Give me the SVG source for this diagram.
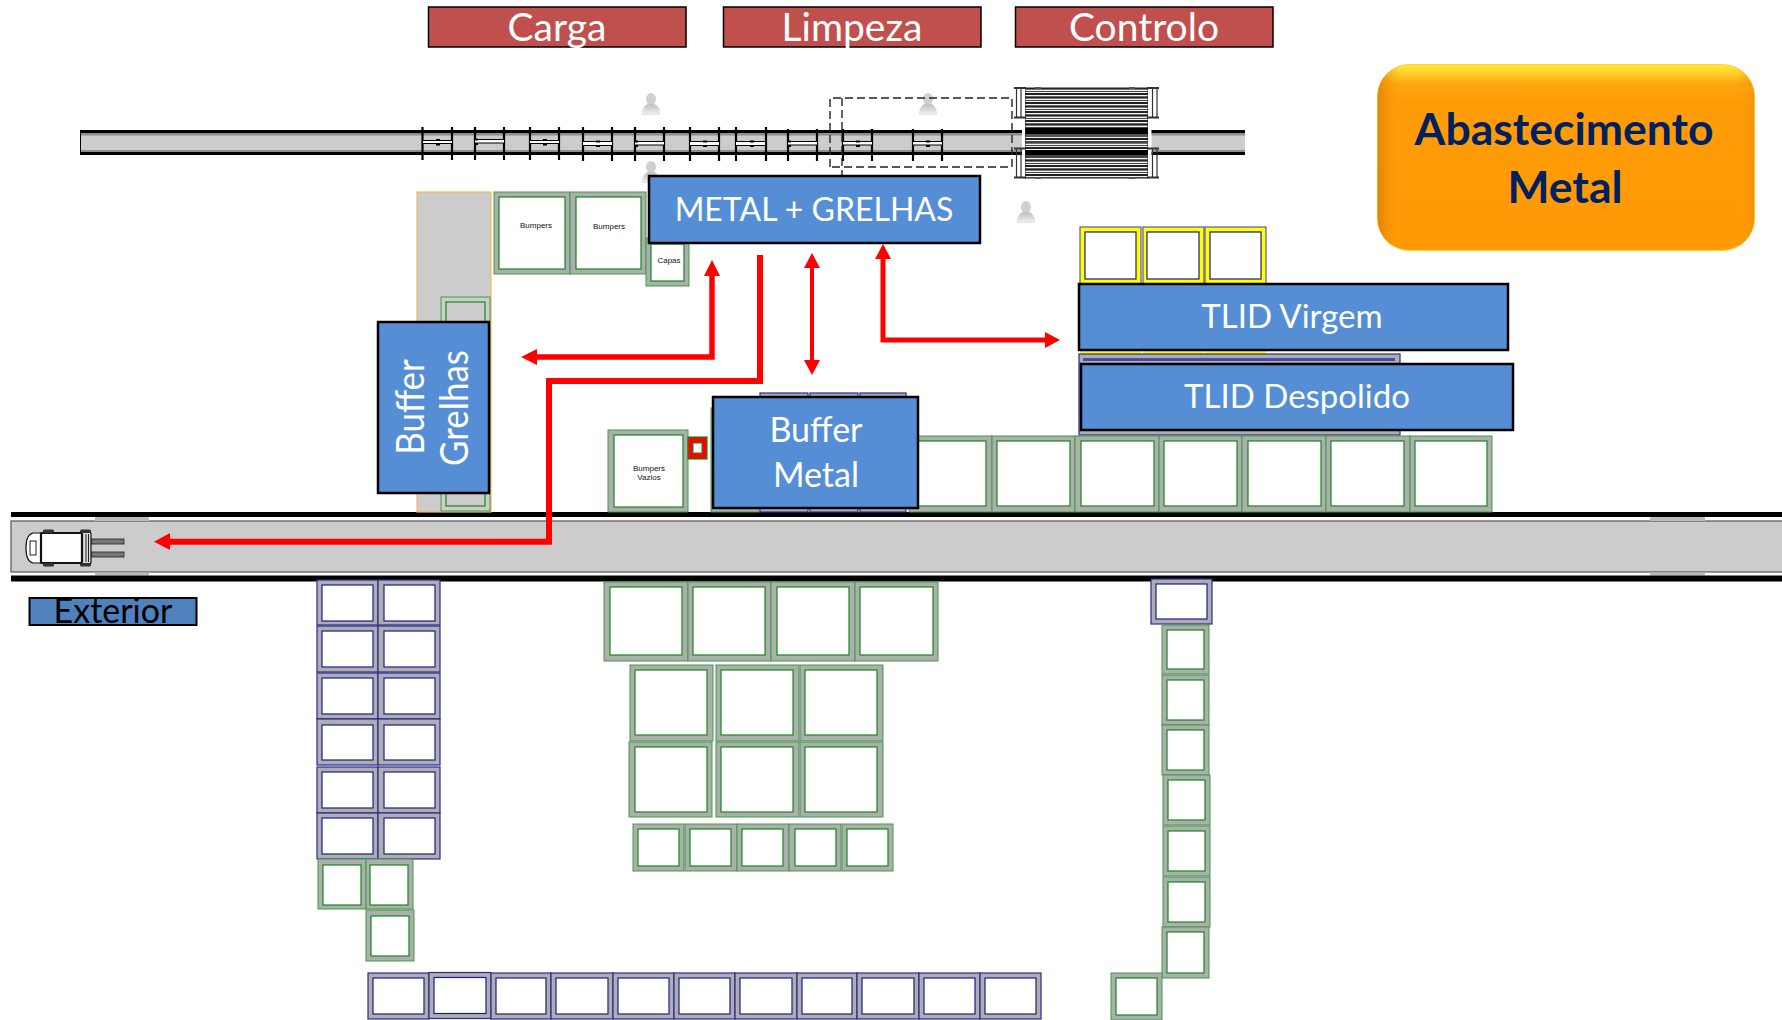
<svg xmlns="http://www.w3.org/2000/svg" width="1782" height="1020" viewBox="0 0 1782 1020">
<style>
text{font-family:"Lato","Liberation Sans",sans-serif}
.go{fill:#aeaeae;stroke:#3a9f42;stroke-width:1}
.gi{fill:#fff;stroke:#128a1a;stroke-width:1.200}
.bo{fill:#aeaeae;stroke:#2a2a96;stroke-width:1.200}
.bi{fill:#fff;stroke:#1c1c92;stroke-width:1.200}
.yo{fill:#ffff00;stroke:#5a5aa8;stroke-width:1.200}
.yi{fill:#fff;stroke:#1c1c80;stroke-width:1.200}
.box{fill:#558ed5;stroke:#000;stroke-width:2.500}
.hdr{fill:#c0504d;stroke:#000;stroke-width:1.500}
.tw{fill:#fff;font-size:33px;text-anchor:middle}
.big{font-size:39px}
.small{font-family:"Liberation Sans",sans-serif;fill:#111;font-size:8px;text-anchor:middle}
.red{fill:none;stroke:#f00;stroke-linejoin:miter}
.redh{fill:#f00;stroke:none}
.tick{stroke:#000;stroke-width:2.200}
.rail{stroke:#000;stroke-width:1}
</style>
<defs>
<linearGradient id="pg" x1="0" y1="0" x2="0" y2="1"><stop offset="0" stop-color="#bdbdbd"/><stop offset="1" stop-color="#f0f0f0"/></linearGradient>
<symbol id="person" viewBox="0 0 20 22" overflow="visible">
<ellipse cx="10" cy="6" rx="5" ry="6" fill="#d0d0d0"/>
<path d="M1.500 21.500C1 15 4.500 10.500 10 10.500S19 15 18.500 21.500Z" fill="url(#pg)" stroke="#d4d4d4" stroke-width=".5"/>
</symbol>
<pattern id="stripes" width="10" height="9" patternUnits="userSpaceOnUse" y="88">
<rect width="10" height="9" fill="#f4f4f4"/>
<rect y="0" width="10" height="1.600" fill="#222"/><rect y="3" width="10" height="1" fill="#444"/><rect y="5" width="10" height="2" fill="#222"/><rect y="8" width="10" height="1" fill="#666"/>
</pattern>
<linearGradient id="og" x1="0" y1="0" x2="0" y2="1">
<stop offset="0" stop-color="#ffe838"/><stop offset=".035" stop-color="#ffd830"/><stop offset=".1" stop-color="#ffa80f"/><stop offset=".2" stop-color="#fe9c08"/><stop offset="1" stop-color="#ff9a06"/>
</linearGradient>
<linearGradient id="oe" x1="0" y1="0" x2="1" y2="0">
<stop offset="0" stop-color="#d87f08" stop-opacity=".8"/><stop offset=".06" stop-color="#ff9a06" stop-opacity="0"/><stop offset=".95" stop-color="#ff9a06" stop-opacity="0"/><stop offset="1" stop-color="#e8900c" stop-opacity=".6"/>
</linearGradient>
</defs>
<rect width="1782" height="1020" fill="#fff"/>

<g id="road">
<rect x="11" y="521" width="1790" height="51" fill="#ccc" stroke="#555" stroke-width="1.200"/>
<rect x="95" y="517" width="54" height="4" fill="#bbb"/><rect x="95" y="572.500" width="54" height="3" fill="#bbb"/>
<rect x="1650" y="517" width="55" height="4" fill="#bbb"/><rect x="1650" y="572.500" width="55" height="3" fill="#bbb"/>
<rect x="11" y="512" width="1771" height="5" fill="#000"/>
<rect x="11" y="575.500" width="1771" height="6" fill="#000"/>
</g>

<g id="conveyor">
<rect x="80" y="130" width="1165" height="25" fill="#000"/>
<rect x="81" y="133" width="1164" height="19" fill="#8e8e8e"/>
<rect x="81" y="135.500" width="1164" height="14.500" fill="#ccc"/>
<g id="hangers">
<path class="tick" d="M422.500 127V160M452 127V160M475 127V160M504 127V160M530 127V160M559 127V160M583 127V161M612 127V161M635 127V161M664 127V161M690 127V161M719 127V161M736 127V161M766 127V161M788 129V161M817 129V161M843 129V161M872 129V161M913 129V161M942 129V161"/>
<g fill="#fff"><rect x="423" y="140.500" width="29" height="3"/><rect x="475" y="140" width="29" height="3"/><rect x="530" y="140.500" width="29" height="3"/><rect x="583" y="142" width="29" height="3"/><rect x="635" y="142" width="29" height="3"/><rect x="690" y="142" width="29" height="3"/><rect x="736" y="142" width="29" height="3"/><rect x="788" y="142" width="29" height="3"/><rect x="843" y="142" width="29" height="3"/><rect x="913" y="142" width="29" height="3"/></g>
<path class="rail" d="M423 140.500H452M423 143.500H452M475 139.500H504M475 143H504M530 140.500H559M530 143.500H559M583 141.500H612M583 145.500H612M635 141.500H664M635 145H664M690 141.500H719M690 145.500H719M736 141.500H766M736 145.500H766M788 141.500H817M788 145H817M843 141.500H872M843 145H872M913 141.500H942M913 145H942"/>
<g fill="#000"><rect x="436" y="139" width="4" height="2"/><rect x="436" y="143.500" width="4" height="2"/><rect x="475" y="138.500" width="3" height="2"/><rect x="475" y="143" width="3" height="2"/><rect x="543" y="139" width="4" height="2"/><rect x="543" y="143.500" width="4" height="2"/><rect x="596" y="140.500" width="4" height="2"/><rect x="596" y="145" width="4" height="2"/><rect x="635" y="140.500" width="3" height="2"/><rect x="635" y="145" width="3" height="2"/><rect x="703" y="140.500" width="4" height="2"/><rect x="703" y="145" width="4" height="2"/><rect x="750" y="140.500" width="4" height="2"/><rect x="750" y="145" width="4" height="2"/><rect x="788" y="140.500" width="3" height="2"/><rect x="788" y="145" width="3" height="2"/><rect x="856" y="140.500" width="4" height="2"/><rect x="856" y="145" width="4" height="2"/><rect x="926" y="140.500" width="4" height="2"/><rect x="926" y="145" width="4" height="2"/></g>
</g>
</g>

<g id="persons">
<use href="#person" x="641" y="93" width="20" height="22"/>
<use href="#person" x="641" y="161" width="20" height="22"/>
<use href="#person" x="918" y="93" width="20" height="22"/>
<use href="#person" x="1016" y="201" width="20" height="22"/>
</g>

<g id="dashed-zone" fill="none" stroke="#222" stroke-width="1.400" stroke-dasharray="8 4">
<path d="M830 167V98H1012V167H830"/>
<path d="M842 98V176"/>
</g>

<g id="roller">
<rect x="1025" y="88" width="123" height="90" fill="url(#stripes)"/>
<rect x="1025" y="128" width="123" height="6" fill="#000"/>
<rect x="1025" y="134" width="123" height="3" fill="#555"/>
<rect x="1025" y="141" width="123" height="2" fill="#444"/>
<rect x="1025" y="150" width="123" height="5" fill="#000"/>
<rect x="1025" y="155" width="123" height="3" fill="#444"/>
<rect x="1025" y="88" width="123" height="90" fill="none" stroke="#222" stroke-width="1"/>
<rect x="1022" y="88" width="3" height="90" fill="#fff"/><rect x="1148" y="88" width="3.500" height="90" fill="#fff"/>
<path d="M1016.500 88V117M1021 88V117M1016.500 148V178M1021 148V178M1152.500 88V117M1157 88V117M1152.500 148V178M1157 148V178" stroke="#333" stroke-width="1.200" fill="none"/>
<path d="M1014 88H1026M1014 117.500H1026M1014 148.500H1026M1014 177.500H1026M1147 88H1159M1147 117.500H1159M1147 148.500H1159M1147 177.500H1159" stroke="#333" stroke-width="2" fill="none"/>
<rect x="1035" y="87" width="6" height="2" fill="#555"/><rect x="1129" y="87" width="6" height="2" fill="#555"/><rect x="1035" y="177" width="6" height="2" fill="#555"/><rect x="1129" y="177" width="6" height="2" fill="#555"/>
</g>

<g id="crates-upper">
<rect id="buffer-grelhas-area" x="417" y="192" width="74" height="320" fill="#ccc" stroke="#f4b860" stroke-width="1.200"/>
<g id="c-grelhas"><rect class="go" x="441" y="297" width="49" height="214" style="fill:#ccc"/><rect class="gi" x="446" y="302" width="39" height="204" style="fill:#ccc"/></g>
<g id="c-bumpers-1"><rect class="go" x="494" y="192" width="76" height="82"/><rect class="gi" x="499" y="197" width="66" height="72"/><text class="small" x="536" y="228">Bumpers</text></g>
<g id="c-bumpers-2"><rect class="go" x="570" y="192" width="76" height="82"/><rect class="gi" x="576" y="197" width="65" height="72"/><text class="small" x="609" y="229">Bumpers</text></g>
<g id="c-capas"><rect class="go" x="646" y="238" width="43" height="48"/><rect class="gi" x="651" y="244" width="33" height="37"/><text class="small" x="669" y="263">Capas</text></g>
<g id="c-vazios"><rect class="go" x="608" y="430" width="80" height="82"/><rect class="gi" x="614" y="435" width="69" height="72"/><text class="small" x="649" y="471">Bumpers</text><text class="small" x="649" y="480">Vazios</text></g>
<g id="c-red"><rect x="688" y="437" width="19" height="22" fill="#f00" stroke="#128a1a" stroke-width="1.200"/><rect x="693" y="443" width="9" height="10" fill="#fff" stroke="#128a1a" stroke-width="1"/></g>
<g id="c-bm-g"><rect class="go" x="711" y="408" width="48" height="104"/></g>
<g id="c-bm-b1"><rect class="bo" x="760" y="393" width="48" height="119"/></g>
<g id="c-bm-b2"><rect class="bo" x="810" y="393" width="48" height="119"/></g>
<g id="c-bm-b3"><rect class="bo" x="860" y="393" width="46" height="119"/></g>
<g id="c-y1"><rect class="yo" x="1080" y="227" width="61" height="57"/><rect class="yi" x="1085" y="232" width="51" height="47"/></g>
<g id="c-y2"><rect class="yo" x="1143" y="227" width="61" height="57"/><rect class="yi" x="1147" y="232" width="52" height="47"/></g>
<g id="c-y3"><rect class="yo" x="1205" y="227" width="61" height="57"/><rect class="yi" x="1210" y="232" width="51" height="47"/></g>
<rect x="1080" y="350" width="61" height="5" fill="#ff0"/><rect x="1143" y="350" width="61" height="5" fill="#ff0"/><rect x="1205" y="350" width="61" height="5" fill="#ff0"/>
<g id="c-tlid"><rect class="bo" x="1079" y="354" width="321" height="81"/><rect x="1083" y="358" width="312" height="3" fill="#4a4aa8"/><rect x="1080" y="364" width="2" height="60" fill="#ff0"/></g>
<g id="c-r1"><rect class="go" x="909" y="436" width="83" height="76"/><rect class="gi" x="914" y="441" width="72" height="65"/></g>
<g id="c-r2"><rect class="go" x="992" y="436" width="83" height="76"/><rect class="gi" x="997" y="441" width="73" height="65"/></g>
<g id="c-r3"><rect class="go" x="1075" y="436" width="84" height="76"/><rect class="gi" x="1081" y="441" width="73" height="65"/></g>
<g id="c-r4"><rect class="go" x="1159" y="436" width="83" height="76"/><rect class="gi" x="1164" y="441" width="73" height="65"/></g>
<g id="c-r5"><rect class="go" x="1242" y="436" width="84" height="76"/><rect class="gi" x="1248" y="441" width="73" height="65"/></g>
<g id="c-r6"><rect class="go" x="1326" y="436" width="84" height="76"/><rect class="gi" x="1331" y="441" width="73" height="65"/></g>
<g id="c-r7"><rect class="go" x="1410" y="436" width="82" height="76"/><rect class="gi" x="1415" y="441" width="72" height="65"/></g>
</g>

<g id="crates-lower-left">
<g id="ll1a"><rect class="bo" x="317" y="580" width="61" height="45"/><rect class="bi" x="322" y="585" width="51" height="36"/></g>
<g id="ll1b"><rect class="bo" x="378" y="580" width="62" height="45"/><rect class="bi" x="384" y="585" width="51" height="36"/></g>
<g id="ll2a"><rect class="bo" x="317" y="626" width="61" height="46"/><rect class="bi" x="322" y="631" width="51" height="36"/></g>
<g id="ll2b"><rect class="bo" x="378" y="626" width="62" height="46"/><rect class="bi" x="384" y="631" width="51" height="36"/></g>
<g id="ll3a"><rect class="bo" x="317" y="673" width="61" height="46"/><rect class="bi" x="322" y="678" width="51" height="36"/></g>
<g id="ll3b"><rect class="bo" x="378" y="673" width="62" height="46"/><rect class="bi" x="384" y="678" width="51" height="36"/></g>
<g id="ll4a"><rect class="bo" x="317" y="719" width="61" height="46"/><rect class="bi" x="322" y="725" width="51" height="35"/></g>
<g id="ll4b"><rect class="bo" x="378" y="719" width="62" height="46"/><rect class="bi" x="384" y="725" width="51" height="35"/></g>
<g id="ll5a"><rect class="bo" x="317" y="767" width="61" height="46"/><rect class="bi" x="322" y="772" width="51" height="36"/></g>
<g id="ll5b"><rect class="bo" x="378" y="767" width="62" height="46"/><rect class="bi" x="384" y="772" width="51" height="36"/></g>
<g id="ll6a"><rect class="bo" x="317" y="813" width="61" height="46"/><rect class="bi" x="322" y="818" width="51" height="36"/></g>
<g id="ll6b"><rect class="bo" x="378" y="813" width="62" height="46"/><rect class="bi" x="384" y="818" width="51" height="36"/></g>
<g id="ll7a"><rect class="go" x="318" y="859" width="48" height="50"/><rect class="gi" x="323" y="865" width="38" height="40"/></g>
<g id="ll7b"><rect class="go" x="366" y="859" width="47" height="50"/><rect class="gi" x="370" y="865" width="38" height="40"/></g>
<g id="ll8"><rect class="go" x="366" y="910" width="48" height="51"/><rect class="gi" x="371" y="916" width="38" height="40"/></g>
</g>

<g id="crates-centre">
<g id="m1a"><rect class="go" x="604" y="582" width="84" height="79"/><rect class="gi" x="610" y="587" width="72" height="68"/></g>
<g id="m1b"><rect class="go" x="688" y="582" width="83" height="79"/><rect class="gi" x="693" y="587" width="72" height="68"/></g>
<g id="m1c"><rect class="go" x="771" y="582" width="84" height="79"/><rect class="gi" x="777" y="587" width="72" height="68"/></g>
<g id="m1d"><rect class="go" x="855" y="582" width="83" height="79"/><rect class="gi" x="860" y="587" width="73" height="68"/></g>
<g id="m2a"><rect class="go" x="630" y="665" width="83" height="76"/><rect class="gi" x="635" y="670" width="72" height="65"/></g>
<g id="m2b"><rect class="go" x="716" y="665" width="83" height="76"/><rect class="gi" x="721" y="670" width="72" height="65"/></g>
<g id="m2c"><rect class="go" x="800" y="665" width="83" height="76"/><rect class="gi" x="805" y="670" width="72" height="65"/></g>
<g id="m3a"><rect class="go" x="629" y="742" width="83" height="75"/><rect class="gi" x="635" y="747" width="72" height="65"/></g>
<g id="m3b"><rect class="go" x="716" y="742" width="83" height="75"/><rect class="gi" x="721" y="747" width="72" height="65"/></g>
<g id="m3c"><rect class="go" x="800" y="742" width="83" height="75"/><rect class="gi" x="805" y="747" width="72" height="65"/></g>
<g id="m4a"><rect class="go" x="633" y="824" width="51" height="47"/><rect class="gi" x="638" y="829" width="41" height="37"/></g>
<g id="m4b"><rect class="go" x="685" y="824" width="52" height="47"/><rect class="gi" x="690" y="829" width="41" height="37"/></g>
<g id="m4c"><rect class="go" x="737" y="824" width="52" height="47"/><rect class="gi" x="742" y="829" width="41" height="37"/></g>
<g id="m4d"><rect class="go" x="789" y="824" width="52" height="47"/><rect class="gi" x="795" y="829" width="41" height="37"/></g>
<g id="m4e"><rect class="go" x="842" y="824" width="51" height="47"/><rect class="gi" x="847" y="829" width="41" height="37"/></g>
</g>

<g id="crates-right">
<g id="r0"><rect class="bo" x="1151" y="579" width="61" height="45"/><rect class="bi" x="1156" y="584" width="51" height="35"/></g>
<g id="r1"><rect class="go" x="1162" y="625" width="47" height="49"/><rect class="gi" x="1167" y="630" width="37" height="39"/></g>
<g id="r2"><rect class="go" x="1162" y="675" width="47" height="50"/><rect class="gi" x="1167" y="680" width="37" height="40"/></g>
<g id="r3"><rect class="go" x="1162" y="725" width="47" height="50"/><rect class="gi" x="1167" y="730" width="37" height="40"/></g>
<g id="r4"><rect class="go" x="1163" y="775" width="47" height="50"/><rect class="gi" x="1168" y="780" width="37" height="40"/></g>
<g id="r5"><rect class="go" x="1163" y="826" width="47" height="50"/><rect class="gi" x="1168" y="831" width="37" height="40"/></g>
<g id="r6"><rect class="go" x="1163" y="877" width="47" height="50"/><rect class="gi" x="1168" y="882" width="37" height="40"/></g>
<g id="r7"><rect class="go" x="1162" y="927" width="47" height="51"/><rect class="gi" x="1167" y="932" width="37" height="41"/></g>
<g id="r8"><rect class="go" x="1111" y="973" width="51" height="47"/><rect class="gi" x="1116" y="978" width="41" height="37"/></g>
</g>

<g id="crates-bottom">
<g id="b1"><rect class="bo" x="368" y="973" width="61" height="46"/><rect class="bi" x="373" y="978" width="51" height="36"/></g>
<g id="b2"><rect class="bo" x="429" y="972.500" width="62" height="46"/><rect class="bi" x="434" y="977.500" width="52" height="36"/></g>
<g id="b3"><rect class="bo" x="491" y="973" width="60" height="46"/><rect class="bi" x="496" y="978" width="50" height="36"/></g>
<g id="b4"><rect class="bo" x="551" y="973" width="62" height="46"/><rect class="bi" x="556" y="978" width="52" height="36"/></g>
<g id="b5"><rect class="bo" x="613" y="973" width="61" height="46"/><rect class="bi" x="618" y="978" width="51" height="36"/></g>
<g id="b6"><rect class="bo" x="674" y="973" width="61" height="46"/><rect class="bi" x="679" y="978" width="51" height="36"/></g>
<g id="b7"><rect class="bo" x="735" y="973" width="62" height="46"/><rect class="bi" x="740" y="978" width="52" height="36"/></g>
<g id="b8"><rect class="bo" x="797" y="973" width="60" height="46"/><rect class="bi" x="802" y="978" width="50" height="36"/></g>
<g id="b9"><rect class="bo" x="857" y="973" width="62" height="46"/><rect class="bi" x="862" y="978" width="52" height="36"/></g>
<g id="b10"><rect class="bo" x="919" y="973" width="61" height="46"/><rect class="bi" x="924" y="978" width="51" height="36"/></g>
<g id="b11"><rect class="bo" x="980" y="973" width="61" height="46"/><rect class="bi" x="985" y="978" width="51" height="36"/></g>
</g>

<g id="forklift">
<rect x="91" y="539" width="33" height="5" fill="#777" stroke="#222" stroke-width=".8"/>
<rect x="91" y="552" width="33" height="5" fill="#777" stroke="#222" stroke-width=".8"/>
<path d="M41 533H33C28 534 26 540 26 548S28 562 33 563H41Z" fill="#fff" stroke="#111" stroke-width="1.200"/>
<rect x="30" y="541" width="6" height="14" fill="#fff" stroke="#222" stroke-width="1"/>
<rect x="82" y="532" width="9" height="32" fill="#ddd" stroke="#111" stroke-width="1.200" rx="2"/>
<path d="M86 534V562M88.500 534V562" stroke="#222" stroke-width="1"/>
<rect x="41" y="533" width="41" height="30" fill="#fff" stroke="#111" stroke-width="2.200" rx="1"/>
<rect x="43" y="529.500" width="11" height="3.500" fill="#333" rx="1.500"/><rect x="43" y="563" width="11" height="3.500" fill="#333" rx="1.500"/>
<rect x="80" y="529.500" width="11" height="3.500" fill="#333" rx="1.500"/><rect x="80" y="563" width="11" height="3.500" fill="#333" rx="1.500"/>
</g>

<g id="connectors">
<path class="red" stroke-width="5.500" d="M712 276V357H535"/>
<path class="redh" d="M712 260L720 276H704Z"/><path class="redh" d="M521 357L537 349V365Z"/>
<path class="red" stroke-width="6" d="M760 255V381H549V541.700H168"/>
<path class="redh" d="M154 541.700L170 533V550Z"/>
<path class="red" stroke-width="4" d="M812 266V362"/>
<path class="redh" d="M812 253L820 268H804Z"/><path class="redh" d="M812 375L804 360H820Z"/>
<path class="red" stroke-width="5" d="M883 257V340H1047"/>
<path class="redh" d="M883 244L891 259H875Z"/><path class="redh" d="M1060 340L1045 332V348Z"/>
</g>

<g id="metal-grelhas"><rect class="box" x="649" y="176" width="331" height="67"/><text class="tw" style="font-size:32px" x="814" y="221">METAL + GRELHAS</text></g>
<g id="buffer-metal"><rect class="box" x="713" y="397" width="205" height="111"/><text class="tw" style="font-size:34px" x="816" y="442">Buffer</text><text class="tw" style="font-size:34px" x="816" y="487">Metal</text></g>
<g id="buffer-grelhas"><rect class="box" x="378" y="322" width="111" height="171"/><g transform="translate(424 407) rotate(-90) scale(1.060 1.150)"><text class="tw">Buffer</text></g><g transform="translate(468 408) rotate(-90) scale(1.060 1.150)"><text class="tw">Grelhas</text></g></g>
<g id="tlid-virgem"><rect class="box" x="1079" y="284" width="429" height="66"/><text class="tw" x="1292" y="328">TLID Virgem</text></g>
<g id="tlid-despolido"><rect class="box" x="1081" y="364" width="432" height="66"/><text class="tw" x="1297" y="408">TLID Despolido</text></g>

<g id="hdr-carga"><rect class="hdr" x="428.500" y="7" width="257.500" height="40"/><text class="tw big" x="557" y="41">Carga</text></g>
<g id="hdr-limpeza"><rect class="hdr" x="723.500" y="7" width="257.500" height="40"/><text class="tw big" x="852" y="41">Limpeza</text></g>
<g id="hdr-controlo"><rect class="hdr" x="1015.500" y="7" width="257.500" height="40"/><text class="tw big" x="1144" y="41">Controlo</text></g>

<g id="exterior"><rect x="29.500" y="598" width="167" height="27" fill="#4f81bd" stroke="#000" stroke-width="2"/><text x="113" y="623" style="font-size:34px;fill:#000;text-anchor:middle">Exterior</text></g>

<g id="abastecimento">
<rect x="1377.500" y="64.500" width="377" height="186" rx="32" fill="url(#og)" stroke="#ffd23a" stroke-width="1"/>
<rect x="1377.500" y="64.500" width="377" height="186" rx="32" fill="url(#oe)"/>
<text x="1564" y="145" style="font-size:44.500px;font-weight:700;fill:#002060;text-anchor:middle">Abastecimento</text>
<text x="1565" y="203" style="font-size:44.500px;font-weight:700;fill:#002060;text-anchor:middle">Metal</text>
</g>
</svg>
